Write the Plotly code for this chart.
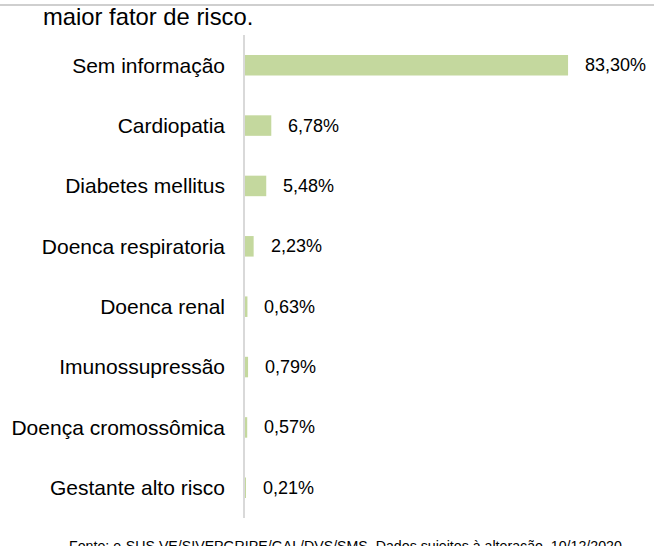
import plotly.graph_objects as go

# -----------------------------
# Data
# -----------------------------

categories = [
    "Sem informação",
    "Cardiopatia",
    "Diabetes mellitus",
    "Doenca respiratoria",
    "Doenca renal",
    "Imunossupressão",
    "Doença cromossômica",
    "Gestante alto risco",
]
percent = [83.30, 6.78, 5.48, 2.23, 0.63, 0.79, 0.57, 0.21]
labels = ["83,30%", "6,78%", "5,48%", "2,23%", "0,63%", "0,79%", "0,57%", "0,21%"]

title_text = "maior fator de risco."
source_text = "Fonte: e-SUS VE/SIVEPGRIPE/GAL/DVS/SMS. Dados sujeitos à alteração. 10/12/2020"

BAR_COLOR = "#c4d89e"
FONT = "Liberation Sans, Arial, sans-serif"

fig = go.Figure()

fig.add_trace(
    go.Bar(
        x=percent,
        y=categories,
        orientation="h",
        width=0.34,
        marker=dict(color=BAR_COLOR, line=dict(width=0)),
        hoverinfo="skip",
    )
)

# value labels next to each bar
for cat, val, lab in zip(categories, percent, labels):
    fig.add_annotation(
        x=val, y=cat, xref="x", yref="y",
        text=lab, showarrow=False,
        xanchor="left", xshift=15,
        font=dict(family=FONT, size=18, color="#000000"),
    )

# cropped title line
fig.add_annotation(
    xref="paper", yref="paper", x=-0.516, y=1.0385,
    xanchor="left", yanchor="middle",
    text=title_text, showarrow=False,
    font=dict(family=FONT, size=23.8, color="#000000"),
)

# cropped source line at bottom
fig.add_annotation(
    xref="paper", yref="paper", x=0.254, y=-0.0373,
    xanchor="center", yanchor="top",
    text=source_text, showarrow=False,
    font=dict(family=FONT, size=14.2, color="#000000"),
)

# grey separator line at the top edge
fig.add_shape(
    type="line", xref="paper", yref="paper",
    x0=-1, x1=1.2, y0=1.062, y1=1.062,
    line=dict(color="#cfcfcf", width=2),
)

fig.update_layout(
    width=654,
    height=546,
    paper_bgcolor="white",
    plot_bgcolor="white",
    showlegend=False,
    margin=dict(l=245, r=14, t=35, b=28),
    font=dict(family=FONT, size=21, color="#000000"),
)

fig.update_xaxes(
    range=[0, 101.85],
    visible=False,
    showgrid=False,
    zeroline=False,
)

fig.update_yaxes(
    autorange="reversed",
    showgrid=False,
    zeroline=False,
    showline=True,
    linecolor="#d9d9d9",
    linewidth=1.5,
    ticks="",
    ticklabelstandoff=14,
    tickfont=dict(family=FONT, size=21, color="#000000"),
    automargin=False,
)

fig.write_html(
    "out.html",
    config={"displayModeBar": False},
    post_script="document.body.style.margin='0';",
)
